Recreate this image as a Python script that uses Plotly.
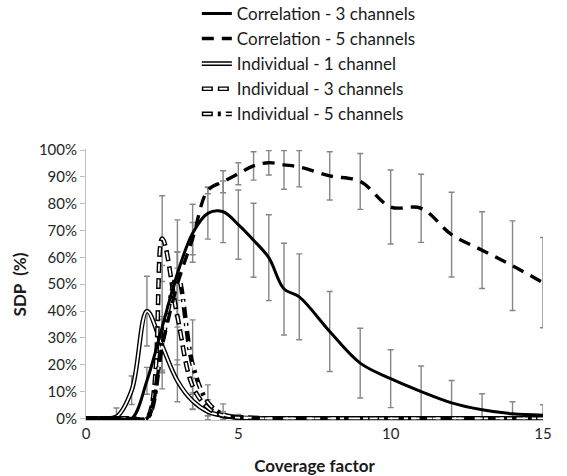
import plotly.graph_objects as go

# ---------------- data ----------------
x_vals = [0, 0.5, 1, 1.5, 2, 2.5, 3, 3.5, 4, 4.5, 5, 5.5, 6, 6.5, 7,
          8, 9, 10, 11, 12, 13, 14, 15]

corr3 = [0, 0, 0, 0, 14, 34, 54, 69, 76.4, 77, 72.2, 66.4, 59.9, 48.2, 45.3,
         32.4, 20.6, 14.8, 10, 5.8, 3.2, 1.7, 1.2]
corr3_err = [None, None, None, None, 5, 23, 20, 10.8, 9.6, 11.5, 12.9, 13.8, 16, 17.1, 16,
             14.9, 13, 10.8, 9.5, 8.3, 6, 4.5, 3.9]

corr5 = [0, 0, 0, 0, 0, 27, 50, 67, 85, 88.2, 91.2, 94.1, 95.3, 94.5, 93.7,
         90.4, 88.3, 78.8, 78.3, 68.5, 62.7, 56.9, 50.6]
corr5_err_plus = [None, None, None, None, None, 10, 12, 6, 1.3, 4.1, 4.1, 5.3, 4.5, 5.3, 6.1,
                  9, 10.4, 13.8, 12.7, 15.8, 14.3, 16.7, 16.8]
corr5_err_minus = [None, None, None, None, None, 10, 12, 6, 1.3, 4.1, 4.1, 5.3, 4.6, 9.1, 7.4,
                   9, 10.4, 13.8, 12.7, 15.8, 14.3, 16.7, 16.8]

ind1 = [0, 0, 0.6, 10.5, 40, 27, 14, 6.5, 2.5, 1, 0.3, 0, 0, 0, 0,
        0, 0, 0, 0, 0, 0, 0, 0]
ind1_err = [None, None, 3.3, 5.3, 13, 9.7, 7.8, 3, 1.5, 0.8, None, None, None, None, None,
            None, None, None, None, None, None, None, None]

ind3 = [0, 0, 0, 0, 0, 67, 38, 12, 4, 1, 0.3, 0, 0, 0, 0,
        0, 0, 0, 0, 0, 0, 0, 0]
ind3_err = [None, None, None, None, None, 16, 18, 3, 3, 1.5, None, None, None, None, None,
            None, None, None, None, None, None, None, None]

ind5 = [0, 0, 0, 0, 0, 28, 53, 20, 6, 1.5, 0.5, 0.2, 0, 0, 0,
        0, 0, 0, 0, 0, 0, 0, 0]
ind5_err = [None, None, None, None, None, 10, 9, 16.7, 6.5, 3.9, 1, None, None, None, None,
            None, None, None, None, None, None, None, None]

names = ["Correlation - 3 channels", "Correlation - 5 channels",
         "Individual - 1 channel", "Individual - 3 channels", "Individual - 5 channels"]

y_ticks = list(range(0, 101, 10))
y_ticktext = [f"{v}%" for v in y_ticks]
x_ticks = [0, 5, 10, 15]

# ---------------- figure ----------------
FONT = "Lato"
ERR_COLOR = "#868686"
fig = go.Figure()


def err_trace(ys, plus, minus=None):
    xs, yy, ep, em = [], [], [], []
    for i, e in enumerate(plus):
        if e is None:
            continue
        xs.append(x_vals[i])
        yy.append(ys[i])
        ep.append(e)
        em.append(minus[i] if minus is not None else e)
    return go.Scatter(
        x=xs, y=yy, mode="markers",
        marker=dict(size=1, color="rgba(0,0,0,0)"),
        error_y=dict(type="data", array=ep, arrayminus=em, symmetric=False,
                     color=ERR_COLOR, thickness=1.4, width=3),
        showlegend=False, hoverinfo="skip")


# error bars (behind the lines)
fig.add_trace(err_trace(ind1, ind1_err))
fig.add_trace(err_trace(ind3, ind3_err))
fig.add_trace(err_trace(ind5, ind5_err))
fig.add_trace(err_trace(corr3, corr3_err))
fig.add_trace(err_trace(corr5, corr5_err_plus, corr5_err_minus))

SM = 1.0
# individual series: double lines (black outline + white core)
ind_specs = [
    (ind1, names[2], "solid", "solid", 3),
    (ind3, names[3], "11px,5px", "0px,1.5px,8px,6.5px", 4),
    (ind5, names[4], "11px,5px,3px,5px", "0px,1.5px,8px,11.5px", 5),
]
for ys, nm, dash_b, dash_w, rank in ind_specs:
    fig.add_trace(go.Scatter(
        x=x_vals, y=ys, mode="lines", name=nm,
        line=dict(color="black", width=4.6, dash=dash_b, shape="spline", smoothing=SM),
        legend="legend", legendrank=rank, hoverinfo="skip"))
    fig.add_trace(go.Scatter(
        x=x_vals, y=ys, mode="lines", name=nm,
        line=dict(color="white", width=1.8, dash=dash_w, shape="spline", smoothing=SM),
        legend="legend2", legendrank=rank, hoverinfo="skip"))

# correlation series
fig.add_trace(go.Scatter(
    x=x_vals, y=corr3, mode="lines", name=names[0],
    line=dict(color="black", width=3, shape="spline", smoothing=SM),
    legend="legend", legendrank=1, hoverinfo="skip"))
fig.add_trace(go.Scatter(
    x=x_vals, y=corr5, mode="lines", name=names[1],
    line=dict(color="black", width=3.4, dash="12px,8px", shape="spline", smoothing=SM),
    legend="legend", legendrank=2, hoverinfo="skip"))
# placeholders so that legend2 rows align with legend rows
for nm, rank in [(names[0], 1), (names[1], 2)]:
    fig.add_trace(go.Scatter(
        x=[None], y=[None], mode="lines", name=nm,
        line=dict(color="rgba(0,0,0,0)", width=1),
        legend="legend2", legendrank=rank, hoverinfo="skip"))

legend_common = dict(x=0.2425, y=1.565, xanchor="left", yanchor="top",
                     orientation="v", bgcolor="rgba(0,0,0,0)", borderwidth=0,
                     traceorder="normal", itemclick=False, itemdoubleclick=False)

fig.update_layout(
    width=567, height=476,
    margin=dict(l=86, r=24, t=149, b=56, autoexpand=False),
    paper_bgcolor="white", plot_bgcolor="white",
    font=dict(family=FONT, size=15, color="#262626"),
    legend=dict(**legend_common, font=dict(family=FONT, size=17, color="#1a1a1a")),
    legend2=dict(**legend_common, font=dict(family=FONT, size=17, color="rgba(0,0,0,0)")),
    xaxis=dict(range=[0, 15], tickvals=x_ticks, showgrid=False, zeroline=False,
               showline=True, linecolor="#bfbfbf", linewidth=1, ticks="",
               tickfont=dict(family=FONT, size=15, color="#262626"),
               title=dict(text="<b>Coverage factor</b>", standoff=19,
                          font=dict(family=FONT, size=17, color="#1a1a1a"))),
    yaxis=dict(range=[-0.6, 100.4], tickvals=y_ticks, ticktext=y_ticktext, showgrid=False,
               zeroline=False, showline=True, linecolor="#bfbfbf", linewidth=1,
               ticks="outside", ticklen=5, tickcolor="#bfbfbf",
               tickfont=dict(family=FONT, size=15, color="#262626"),
               title=dict(text="<b>SDP  (%)</b>", standoff=7,
                          font=dict(family=FONT, size=17, color="#1a1a1a"))),
)

fig.write_html("out.html", config={"displayModeBar": False},
               post_script="document.body.style.margin='0px';")
